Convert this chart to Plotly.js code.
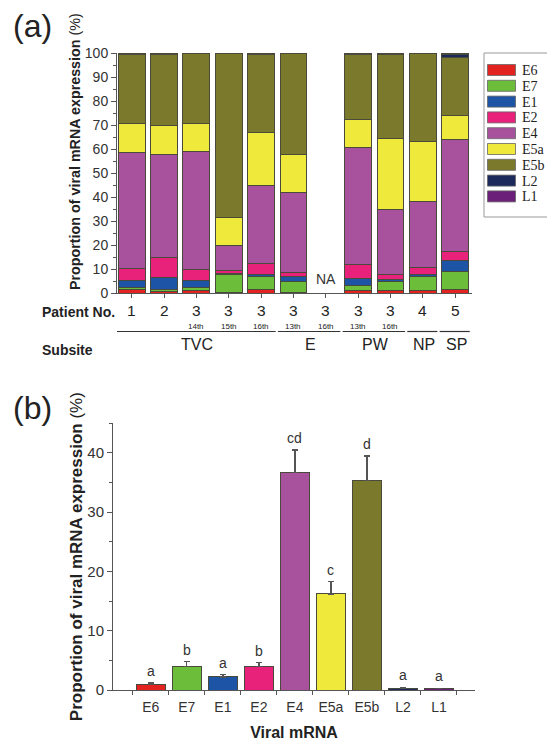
<!DOCTYPE html>
<html>
<head>
<meta charset="utf-8">
<script src="https://cdn.plot.ly/plotly-3.0.1.min.js"></script>
<style>html,body{margin:0;padding:0;background:#fff;}#chart{width:547px;height:741px;}</style>
</head>
<body>
<div id="chart"></div>
<script>
// ---------- Panel (a) data ----------
const patientNo = ['1','2','3','3','3','3','3','3','3','4','5'];
const visit     = ['','','14th','15th','16th','13th','16th','13th','16th','',''];
const subsite   = ['TVC','TVC','TVC','TVC','TVC','E','E','PW','PW','NP','SP'];
const seriesNames  = ['E6','E7','E1','E2','E4','E5a','E5b','L2','L1'];
const seriesColors = ['#e2231f','#6cbd3a','#1d54a6','#e8217b','#a8529e','#eee93a','#7b7a2c','#1b2a5a','#6b1f78'];
const E6  = [1.4, 0.5, 1.2, 0.4, 1.5, 0.4, null, 1.2, 1.0, 1.2, 1.5];
const E7  = [1.1, 1.0, 1.0, 7.4, 5.3, 4.3, null, 2.1, 3.7, 5.6, 7.4];
const E1  = [2.9, 5.0, 3.2, 0.3, 1.1, 2.1, null, 2.8, 1.0, 1.0, 4.85];
const E2  = [4.7, 8.4, 4.5, 1.1, 4.2, 1.8, null, 5.6, 2.1, 2.8, 3.45];
const E4  = [48.5, 42.9, 49.0, 10.8, 32.6, 33.3, null, 49.0, 27.2, 27.7, 46.8];
const E5a = [12.0, 11.9, 11.8, 11.4, 22.2, 15.9, null, 11.4, 29.4, 25.0, 9.9];
const E5b = [28.6, 29.5, 29.2, 68.6, 32.3, 42.2, null, 27.2, 34.9, 36.7, 24.2];
const L2  = [0.5, 0.5, 0.1, 0, 0.5, 0, null, 0.5, 0.5, 0, 1.1];
const L1  = [0.3, 0.3, 0.1, 0, 0.3, 0, null, 0.2, 0.2, 0, 0.8];
const seriesValues = [E6, E7, E1, E2, E4, E5a, E5b, L2, L1];

// ---------- Panel (b) data ----------
const mrnaNames = ['E6','E7','E1','E2','E4','E5a','E5b','L2','L1'];
const mrnaMean  = [1.0, 4.0, 2.2, 4.0, 36.7, 16.2, 35.4, 0.3, 0.2];
const mrnaErr   = [0.2, 0.8, 0.4, 0.6, 3.8, 2.1, 4.1, 0.15, 0.1];
const mrnaLetters = ['a','b','a','b','cd','c','d','a','a'];

// ---------- build ----------
const W = 547, H = 741;
const px = v => v / W;          // pixel -> paper x
const py = v => (H - v) / H;    // pixel -> paper y

const cats = patientNo.map((p, i) => p + '-' + (visit[i] || 'x') + '-' + subsite[i]);
const axisCol = '#555';
const txtCol = '#222';
const sans = 'Arial, "Liberation Sans", Helvetica, sans-serif';

const traces = seriesNames.map((n, k) => ({
  type: 'bar', name: n, x: cats, y: seriesValues[k],
  xaxis: 'x', yaxis: 'y',
  marker: {color: seriesColors[k], line: {color: '#4a4a3c', width: 1}},
  showlegend: false, hoverinfo: 'skip'
}));

traces.push({
  type: 'bar', x: mrnaNames, y: mrnaMean, xaxis: 'x2', yaxis: 'y2',
  marker: {color: seriesColors, line: {color: '#4a4a3c', width: 1}},
  error_y: {type: 'data', symmetric: false, array: mrnaErr, arrayminus: mrnaErr.map(() => 0),
            color: axisCol, thickness: 1.3, width: 3},
  showlegend: false, hoverinfo: 'skip', width: 0.8
});

const annotations = [];
const shapes = [];

// panel labels
annotations.push({text: '(a)', xref: 'paper', yref: 'paper', x: px(32), y: py(26), showarrow: false,
  xanchor: 'center', yanchor: 'middle', font: {family: sans, size: 32, color: txtCol}});
annotations.push({text: '(b)', xref: 'paper', yref: 'paper', x: px(32), y: py(408), showarrow: false,
  xanchor: 'center', yanchor: 'middle', font: {family: sans, size: 32, color: txtCol}});

// top y title
annotations.push({text: '<b>Proportion of viral mRNA expression</b> (%)', xref: 'paper', yref: 'paper',
  x: px(75), y: py(152), textangle: -90, showarrow: false, xanchor: 'center', yanchor: 'middle',
  font: {family: sans, size: 14.3, color: txtCol}});

// row headers
annotations.push({text: '<b>Patient No.</b>', xref: 'paper', yref: 'paper', x: px(40), y: py(312),
  showarrow: false, xanchor: 'left', yanchor: 'middle', font: {family: sans, size: 14, color: txtCol}});
annotations.push({text: '<b>Subsite</b>', xref: 'paper', yref: 'paper', x: px(40), y: py(350),
  showarrow: false, xanchor: 'left', yanchor: 'middle', font: {family: sans, size: 14, color: txtCol}});

// patient numbers + visit labels
cats.forEach((c, i) => {
  annotations.push({text: patientNo[i], xref: 'x', yref: 'paper', x: c, y: py(310.5), showarrow: false,
    xanchor: 'center', yanchor: 'middle', font: {family: sans, size: 15.5, color: txtCol}});
  if (visit[i]) annotations.push({text: visit[i], xref: 'x', yref: 'paper', x: c, y: py(327), showarrow: false,
    xanchor: 'center', yanchor: 'middle', font: {family: sans, size: 8, color: txtCol}});
  if (seriesValues.every(s => s[i] === null)) annotations.push({text: 'NA', xref: 'x', yref: 'y', x: c, y: 0,
    yshift: 4, showarrow: false, xanchor: 'center', yanchor: 'bottom', font: {family: sans, size: 14, color: '#333'}});
});

// subsite groups
const groups = [];
subsite.forEach((s, i) => {
  if (groups.length && groups[groups.length - 1].name === s) groups[groups.length - 1].end = i;
  else groups.push({name: s, start: i, end: i});
});
groups.forEach(g => {
  shapes.push({type: 'line', xref: 'x', yref: 'paper', x0: g.start - 0.48, x1: g.end + 0.45,
    y0: py(331.5), y1: py(331.5), line: {color: '#333', width: 1.2}});
  annotations.push({text: g.name, xref: 'x', yref: 'paper', x: (g.start + g.end) / 2 + 0.03, y: py(345),
    showarrow: false, xanchor: 'center', yanchor: 'middle', font: {family: sans, size: 16, color: txtCol}});
});

// legend (custom)
shapes.push({type: 'rect', xref: 'paper', yref: 'paper', x0: px(484), x1: px(560), y0: py(217), y1: py(53),
  line: {color: '#999', width: 1}, fillcolor: 'rgba(0,0,0,0)'});
seriesNames.forEach((n, k) => {
  const cy = 70 + 15.8 * k;
  shapes.push({type: 'rect', xref: 'paper', yref: 'paper', x0: px(487.5), x1: px(515.5),
    y0: py(cy + 5.5), y1: py(cy - 5.5), fillcolor: seriesColors[k], line: {color: '#666', width: 0.8}});
  annotations.push({text: n, xref: 'paper', yref: 'paper', x: px(520), y: py(cy + 0.5), showarrow: false,
    xanchor: 'left', yanchor: 'middle', font: {family: '"Liberation Serif", "Times New Roman", serif', size: 14, color: txtCol}});
});

// panel (b) letters
mrnaNames.forEach((n, i) => {
  annotations.push({text: mrnaLetters[i], xref: 'x2', yref: 'y2', x: n, y: mrnaMean[i] + mrnaErr[i],
    yshift: 2, showarrow: false, xanchor: 'center', yanchor: 'bottom', font: {family: sans, size: 14, color: '#333'}});
});

const layout = {
  width: W, height: H, margin: {l: 0, r: 0, t: 0, b: 0},
  paper_bgcolor: '#fff', plot_bgcolor: '#fff',
  barmode: 'stack', bargap: 0.17, showlegend: false, hovermode: false,
  xaxis: {domain: [px(117), px(472)], anchor: 'y', type: 'category', range: [-0.455, 10.52],
    showline: true, linecolor: axisCol, linewidth: 1, ticks: 'outside', ticklen: 4, tickcolor: axisCol,
    showticklabels: false, showgrid: false, zeroline: false, fixedrange: true},
  yaxis: {domain: [py(293), py(53)], anchor: 'x', range: [0, 100], showline: true, linecolor: axisCol,
    linewidth: 1, ticks: 'outside', ticklen: 5, tickcolor: axisCol, tickvals: [0,10,20,30,40,50,60,70,80,90,100],
    minor: {dtick: 5, ticks: 'outside', ticklen: 3, tickcolor: axisCol},
    tickfont: {family: sans, size: 14, color: '#333'}, showgrid: false, zeroline: false, fixedrange: true},
  xaxis2: {domain: [px(113), px(475)], anchor: 'y2', type: 'category', range: [-1.05, 9],
    showline: true, linecolor: axisCol, linewidth: 1, ticks: 'outside', ticklen: 4, tickcolor: axisCol,
    tickson: 'boundaries', tickangle: 0, ticklabelstandoff: 4, tickfont: {family: sans, size: 14, color: '#333'},
    title: {text: '<b>Viral mRNA</b>', font: {family: sans, size: 16, color: txtCol}, standoff: 14},
    showgrid: false, zeroline: false, fixedrange: true},
  yaxis2: {domain: [py(690), py(423.3)], anchor: 'x2', range: [0, 45], showline: true, linecolor: axisCol,
    linewidth: 1, ticks: 'outside', ticklen: 5, tickcolor: axisCol, tickvals: [0,10,20,30,40],
    minor: {dtick: 5, ticks: 'outside', ticklen: 3, tickcolor: axisCol},
    tickfont: {family: sans, size: 15, color: '#333'},
    title: {text: '<b>Proportion of viral mRNA expression</b> (%)', font: {family: sans, size: 17, color: txtCol}, standoff: 0},
    showgrid: false, zeroline: false, fixedrange: true},
  annotations: annotations, shapes: shapes
};

Plotly.newPlot('chart', traces, layout, {staticPlot: true, displayModeBar: false});
</script>
</body>
</html>
